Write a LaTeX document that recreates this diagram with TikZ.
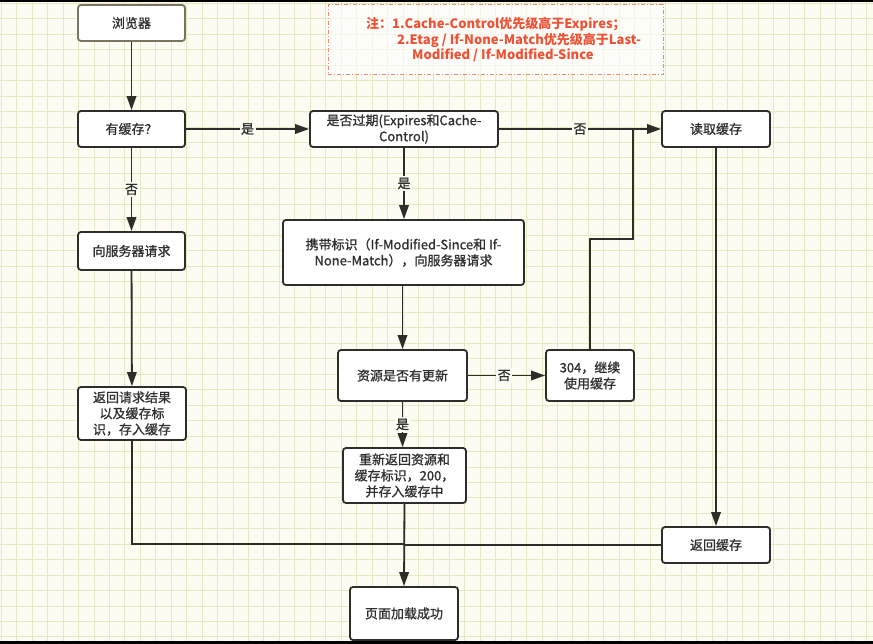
\documentclass[tikz,border=0pt]{standalone}
\usepackage{fontspec}
\setmainfont{Noto Sans CJK SC}[UprightFeatures={FakeBold=0.9}]
\usetikzlibrary{arrows.meta}
\definecolor{paper}{HTML}{FCFCF3}
\definecolor{gridc}{HTML}{E6E8C4}
\definecolor{ink}{HTML}{2E2D29}
\definecolor{softink}{HTML}{7A7562}
\definecolor{txt}{HTML}{2F2F2F}
\definecolor{notered}{HTML}{EE5236}
\definecolor{noteedge}{HTML}{E88A72}
\tikzset{
  gridline/.style={draw=gridc, line width=0.8pt},
  stepbox/.style={draw=ink, line width=1.8pt, rounded corners=3pt, fill=white,
    text=txt, align=center, inner sep=2pt, font=\fontsize{13}{16}\selectfont},
  conn/.style={draw=ink, line width=1.8pt},
  arr/.style={conn, -{Triangle[length=14pt,width=9.5pt]}},
  elabel/.style={fill=paper, text=txt, inner sep=1.5pt, font=\fontsize{13}{16}\selectfont},
  noteline/.style={text=notered, anchor=west, inner sep=0pt, font=\bfseries\fontsize{13}{16}\selectfont}
}
\begin{document}
\begin{tikzpicture}[x=1pt, y=-1pt]
  % paper with grid
  \fill[paper] (0,0) rectangle (873,644);
  \useasboundingbox (0,0) rectangle (873,644);
  \foreach \i in {0,...,56} { \draw[gridline] ({1.2+15.45*\i},0) -- ({1.2+15.45*\i},644); }
  \foreach \j in {0,...,41} { \draw[gridline] (0,{3.4+15.45*\j}) -- (873,{3.4+15.45*\j}); }
  \fill[black] (0,0) rectangle (873,2.5);
  \fill[black] (0,641) rectangle (873,644);

  % note
  \node[draw=noteedge, line width=1pt, dash pattern=on 4pt off 2pt on 1pt off 2pt,
        fill=white, fill opacity=0.6, minimum width=335, minimum height=70] (note) at (495.5,40) {};
  \node[noteline] (n1) at (366,24) {注：1.Cache-Control优先级高于Expires；};
  \node[noteline] (n2) at (397,40) {2.Etag / If-None-Match优先级高于Last-};
  \node[noteline] (n3) at (412,55) {Modified / If-Modified-Since};

  % steps
  \node[stepbox, draw=softink, minimum width=107, minimum height=36] (browser) at (131.5,23) {浏览器};
  \node[stepbox, minimum width=107, minimum height=36] (hascache) at (131.5,129) {有缓存？};
  \node[stepbox, minimum width=188, minimum height=36] (expired) at (404,129) {是否过期(Expires和Cache-\\Control)};
  \node[stepbox, minimum width=108, minimum height=36] (readcache) at (716,129) {读取缓存};
  \node[stepbox, minimum width=107, minimum height=38] (request) at (131.5,251) {向服务器请求};
  \node[stepbox, minimum width=241, minimum height=65] (carry) at (403.5,252.5) {携带标识（If-Modified-Since和 If-\\None-Match），向服务器请求};
  \node[stepbox, minimum width=108, minimum height=53] (result) at (132,413.5) {返回请求结果\\以及缓存标\\识，存入缓存};
  \node[stepbox, minimum width=129, minimum height=51] (updated) at (402.5,375.5) {资源是否有更新};
  \node[stepbox, minimum width=88, minimum height=51] (c304) at (590,375.5) {304，继续\\使用缓存};
  \node[stepbox, minimum width=123, minimum height=55] (refetch) at (404.5,475.5) {重新返回资源和\\缓存标识，200，\\并存入缓存中};
  \node[stepbox, minimum width=108, minimum height=36] (retcache) at (716,545) {返回缓存};
  \node[stepbox, minimum width=108, minimum height=53] (done) at (404,613.5) {页面加载成功};

  % junction points
  \coordinate (up304) at (633,239);
  \coordinate (joinread) at (633,129);
  \coordinate (merge) at (404,544);

  % connectors
  \draw[arr] (browser) -- (hascache);
  \draw[arr] (hascache) -- node[elabel, pos=0.5] {是} (expired);
  \draw[arr] (hascache) -- node[elabel, pos=0.5] {否} (request);
  \draw[arr] (expired) -- node[elabel, pos=0.5] {否} (readcache);
  \draw[arr] (expired.south) -- node[elabel, pos=0.5] {是} (expired.south |- carry.north);
  \draw[arr] (carry.south -| updated.north) -- (updated.north);
  \draw[arr] (updated) -- node[elabel, pos=0.47] {否} (c304);
  \draw[arr] (updated.south) -- node[elabel, pos=0.5] {是} (updated.south |- refetch.north);
  \draw[conn] (c304.north) |- (up304) -- (joinread);
  \draw[arr] (readcache) -- (retcache);
  \draw[arr] (request) -- (result);
  \draw[conn] (result.south) |- (merge);
  \draw[conn] (retcache.west) -- (retcache.west -| merge);
  \draw[arr] (refetch.south) -- (done.north);
\end{tikzpicture}
\end{document}
